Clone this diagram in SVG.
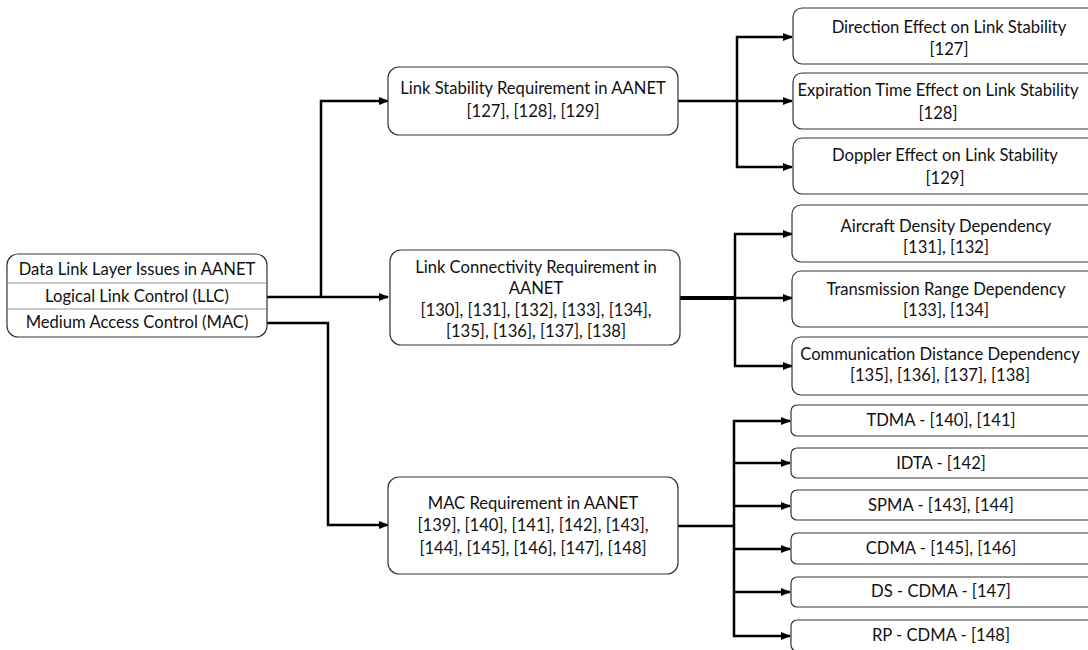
<svg xmlns="http://www.w3.org/2000/svg" width="1088" height="650" viewBox="0 0 1088 650">
<style>
.box{fill:#fff;stroke:#333;stroke-width:1.2}
.t{font-family:Lato,"Liberation Sans",sans-serif;font-size:16.6px;fill:#111;text-anchor:middle}
.c{fill:none;stroke:#000;stroke-width:2.5}
.ca{fill:none;stroke:#000;stroke-width:2.5;marker-end:url(#ah)}
.div{stroke:#999;stroke-width:1}
</style>
<defs>
<marker id="ah" markerUnits="userSpaceOnUse" markerWidth="10" markerHeight="10" viewBox="0 0 10 10" refX="9" refY="5" orient="auto">
<path d="M0,1 L10,5 L0,9 Z" fill="#000"/>
</marker>
</defs>
<rect width="1088" height="650" fill="#fff"/>
<g id="connectors">
<path class="c" d="M267,297 H321"/>
<path class="ca" d="M321,297 H388"/>
<path class="ca" d="M321,297 V101 H388"/>
<path class="ca" d="M267,323 H328 V525 H388"/>
<path class="c" d="M678,101 H737"/>
<path class="ca" d="M737,101 H792"/>
<path class="ca" d="M737,101 V37 H792"/>
<path class="ca" d="M737,101 V167 H792"/>
<path class="c" d="M680,298 H735" style="stroke-width:4"/>
<path class="ca" d="M735,298 H792"/>
<path class="ca" d="M735,298 V234 H792"/>
<path class="ca" d="M735,298 V366 H792"/>
<path class="c" d="M678,526 H734"/>
<path class="ca" d="M734,526 V421 H790"/>
<path class="ca" d="M734,463 H790"/>
<path class="ca" d="M734,506 H790"/>
<path class="ca" d="M734,549 H790"/>
<path class="ca" d="M734,592 H790"/>
<path class="ca" d="M734,526 V636 H790"/>
</g>
<g id="root">
<rect class="box" x="7" y="254" width="260" height="83" rx="11"/>
<line class="div" x1="8" y1="283" x2="266" y2="283"/>
<line class="div" x1="8" y1="309" x2="266" y2="309"/>
<text class="t" x="137" y="275">Data Link Layer Issues in AANET</text>
<text class="t" x="137" y="302">Logical Link Control (LLC)</text>
<text class="t" x="137" y="328">Medium Access Control (MAC)</text>
</g>
<g id="stability">
<rect class="box" x="388" y="67" width="290" height="68" rx="11"/>
<text class="t" x="533" y="94">Link Stability Requirement in AANET</text>
<text class="t" x="533" y="117">[127], [128], [129]</text>
</g>
<g id="connectivity">
<rect class="box" x="390" y="250" width="290" height="95" rx="11"/>
<text class="t" x="536" y="273">Link Connectivity Requirement in</text>
<text class="t" x="536" y="294">AANET</text>
<text class="t" x="536" y="316">[130], [131], [132], [133], [134],</text>
<text class="t" x="536" y="337">[135], [136], [137], [138]</text>
</g>
<g id="mac">
<rect class="box" x="388" y="477" width="290" height="97" rx="11"/>
<text class="t" x="533" y="509">MAC Requirement in AANET</text>
<text class="t" x="533" y="531">[139], [140], [141], [142], [143],</text>
<text class="t" x="533" y="554">[144], [145], [146], [147], [148]</text>
</g>
<g id="direction">
<rect class="box" x="793" y="8" width="310" height="56" rx="9"/>
<text class="t" x="949" y="33">Direction Effect on Link Stability</text>
<text class="t" x="949" y="55">[127]</text>
</g>
<g id="expiration">
<rect class="box" x="793" y="73" width="310" height="56" rx="9"/>
<text class="t" x="938" y="96">Expiration Time Effect on Link Stability</text>
<text class="t" x="938" y="119">[128]</text>
</g>
<g id="doppler">
<rect class="box" x="793" y="138" width="310" height="56" rx="9"/>
<text class="t" x="945" y="161">Doppler Effect on Link Stability</text>
<text class="t" x="945" y="184">[129]</text>
</g>
<g id="density">
<rect class="box" x="792" y="205" width="310" height="57" rx="9"/>
<text class="t" x="946" y="232">Aircraft Density Dependency</text>
<text class="t" x="946" y="253">[131], [132]</text>
</g>
<g id="range">
<rect class="box" x="792" y="271" width="310" height="56" rx="9"/>
<text class="t" x="946" y="295">Transmission Range Dependency</text>
<text class="t" x="946" y="316">[133], [134]</text>
</g>
<g id="distance">
<rect class="box" x="792" y="337" width="310" height="58" rx="9"/>
<text class="t" x="940" y="360">Communication Distance Dependency</text>
<text class="t" x="940" y="381">[135], [136], [137], [138]</text>
</g>
<g id="tdma">
<rect class="box" x="791" y="405" width="310" height="31" rx="6"/>
<text class="t" x="941" y="426">TDMA - [140], [141]</text>
</g>
<g id="idta">
<rect class="box" x="791" y="448" width="310" height="30" rx="6"/>
<text class="t" x="941" y="469">IDTA - [142]</text>
</g>
<g id="spma">
<rect class="box" x="791" y="490" width="310" height="30" rx="6"/>
<text class="t" x="941" y="511">SPMA - [143], [144]</text>
</g>
<g id="cdma">
<rect class="box" x="791" y="533" width="310" height="31" rx="6"/>
<text class="t" x="941" y="554">CDMA - [145], [146]</text>
</g>
<g id="dscdma">
<rect class="box" x="791" y="577" width="310" height="30" rx="6"/>
<text class="t" x="941" y="597">DS - CDMA - [147]</text>
</g>
<g id="rpcdma">
<rect class="box" x="791" y="620" width="310" height="31" rx="6"/>
<text class="t" x="941" y="641">RP - CDMA - [148]</text>
</g>
</svg>
